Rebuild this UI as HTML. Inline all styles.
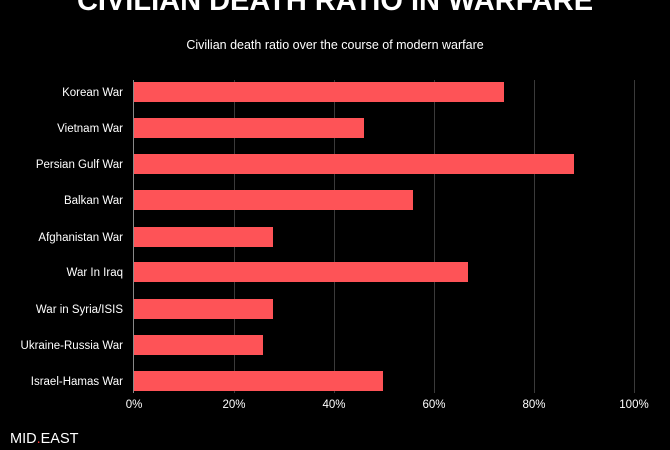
<!DOCTYPE html>
<html><head><style>
body{margin:0;background:#000;width:670px;height:445px;overflow:hidden;font-family:"Liberation Sans",sans-serif;}
</style></head><body>
<svg width="670" height="445" xmlns="http://www.w3.org/2000/svg" font-family="Liberation Sans, sans-serif">
<rect width="670" height="445" fill="#000"/>
<text x="335" y="10" fill="#fff" font-size="29" font-weight="bold" text-anchor="middle">CIVILIAN DEATH RATIO IN WARFARE</text>
<text x="335" y="49" fill="#fff" font-size="12.5" text-anchor="middle">Civilian death ratio over the course of modern warfare</text>
<g stroke="#3a3a3a" stroke-width="1">
<line x1="234.5" y1="80" x2="234.5" y2="393"/><line x1="334.5" y1="80" x2="334.5" y2="393"/><line x1="434.5" y1="80" x2="434.5" y2="393"/><line x1="534.5" y1="80" x2="534.5" y2="393"/><line x1="634.5" y1="80" x2="634.5" y2="393"/>
</g>
<line x1="133.5" y1="80" x2="133.5" y2="393" stroke="#888"/>
<g fill="#fe5357">
<rect x="134" y="82" width="370" height="20"/>
<rect x="134" y="118" width="230" height="20"/>
<rect x="134" y="154" width="440" height="20"/>
<rect x="134" y="190" width="279" height="20"/>
<rect x="134" y="227" width="139" height="20"/>
<rect x="134" y="262" width="334" height="20"/>
<rect x="134" y="299" width="139" height="20"/>
<rect x="134" y="335" width="129" height="20"/>
<rect x="134" y="371" width="249" height="20"/>
</g>
<g fill="#fff" font-size="11.5" text-anchor="end">
<text x="123" y="96">Korean War</text>
<text x="123" y="132">Vietnam War</text>
<text x="123" y="168">Persian Gulf War</text>
<text x="123" y="204">Balkan War</text>
<text x="123" y="241">Afghanistan War</text>
<text x="123" y="276">War In Iraq</text>
<text x="123" y="313">War in Syria/ISIS</text>
<text x="123" y="349">Ukraine-Russia War</text>
<text x="123" y="385">Israel-Hamas War</text>
</g>
<g fill="#fff" font-size="11.5" text-anchor="middle">
<text x="134" y="408">0%</text><text x="234" y="408">20%</text><text x="334" y="408">40%</text><text x="434" y="408">60%</text><text x="534" y="408">80%</text><text x="634" y="408">100%</text>
</g>
<text x="10" y="443" fill="#fff" font-size="14.5">MID<tspan fill="#fe3b3b">.</tspan>EAST</text>
</svg>
</body></html>
